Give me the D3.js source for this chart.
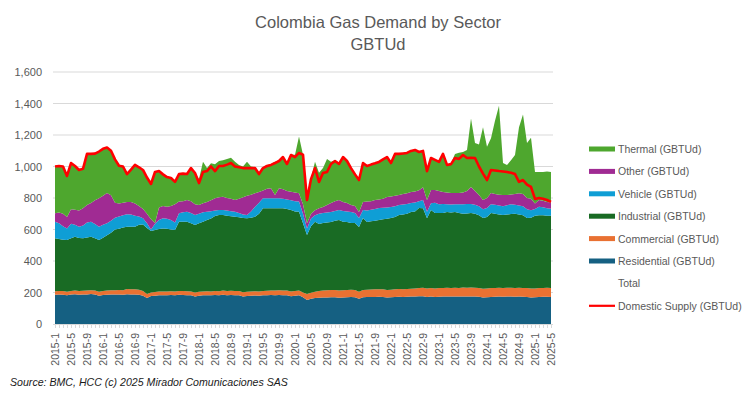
<!DOCTYPE html>
<html>
<head>
<meta charset="utf-8">
<title>Colombia Gas Demand by Sector</title>
<script src="https://cdn.jsdelivr.net/npm/d3@7"></script>
<style>
  body { margin: 0; background: #fff; }
  svg { display: block; font-family: "Liberation Sans", Arial, sans-serif; }
</style>
</head>
<body>
<div id="chart"></div>
<script>
// months 2015-1 .. 2025-5
const months = [];
for (let yr = 2015; yr <= 2025; yr++) {
  for (let m = 1; m <= 12; m++) {
    if (yr === 2025 && m > 5) break;
    months.push(yr + '-' + m);
  }
}

const yTicks = [0, 200, 400, 600, 800, 1000, 1200, 1400, 1600];

// GBTUd, one row per year
const residential = [
  185,188,186,183,187,189,186,188,187,190,188,180,
  184,186,188,187,188,186,189,188,188,186,180,165,
  178,180,182,183,182,184,182,185,184,183,182,175,
  180,182,183,182,184,183,185,183,184,183,182,175,
  178,180,181,180,182,183,184,183,184,183,182,176,
  180,182,170,152,160,165,167,168,169,170,170,166,
  168,170,171,170,160,170,171,172,172,173,172,168,
  170,172,173,172,173,174,175,176,176,172,175,172,
  173,174,175,174,175,174,175,174,175,174,173,168,
  170,172,173,174,173,174,174,173,174,173,172,168,
  170,172,173,173,172
];
const commercial = [
  23,22,23,22,23,23,23,23,25,24,24,25,
  26,27,26,28,28,28,33,32,32,32,30,25,
  22,23,24,24,24,24,24,25,25,25,25,25,
  25,25,25,25,25,25,27,27,27,27,27,27,
  27,27,27,27,28,28,29,29,30,30,30,30,
  30,30,30,38,38,40,43,44,45,46,46,46,
  46,46,46,46,45,46,47,47,48,48,48,48,
  48,49,49,49,50,50,51,52,54,54,54,54,
  55,55,55,55,55,55,56,56,56,56,56,56,
  56,56,56,56,56,56,56,56,56,56,56,57,
  56,56,56,57,57
];
const industrial = [
  336,330,326,328,335,342,337,333,338,340,333,328,
  338,350,366,385,389,398,396,398,398,412,422,420,
  390,394,397,400,399,392,391,440,441,442,433,429,
  435,443,452,463,476,484,480,478,473,471,468,471,
  466,468,473,493,525,524,522,523,521,522,518,518,
  505,501,440,375,422,445,425,429,431,432,439,448,
  436,432,424,425,411,457,430,433,436,439,445,452,
  455,459,470,474,477,487,489,509,505,445,495,479,
  477,476,481,479,481,476,469,472,474,470,461,449,
  454,477,471,465,463,465,468,471,465,461,445,450,
  461,462,461,458,458
];
const vehicle = [
  106,100,85,74,91,76,72,81,95,96,90,85,
  82,76,75,75,77,78,79,77,70,52,40,30,
  10,40,57,64,63,60,48,53,60,63,65,63,
  60,60,53,46,35,32,32,32,32,32,28,22,
  21,40,64,70,63,63,63,63,63,60,60,61,
  65,64,60,42,50,40,65,64,63,63,63,64,
  68,67,70,64,57,51,72,73,74,77,73,72,
  70,68,63,63,62,57,57,43,52,42,42,65,
  55,57,50,50,50,55,60,60,57,57,58,56,
  57,55,57,57,56,59,62,57,57,58,56,48,
  43,55,52,47,45
];
const other = [
  53,68,80,73,92,95,102,110,110,118,150,180,
  185,193,163,95,83,80,78,80,77,68,58,60,
  65,4,80,79,77,90,115,74,70,74,75,68,
  56,56,62,69,78,81,84,80,79,74,90,110,
  123,105,85,68,50,60,64,21,64,60,55,55,
  55,53,60,32,30,32,35,38,47,57,62,63,
  57,53,45,45,38,51,58,55,57,53,57,66,
  67,67,64,67,68,70,70,70,81,74,85,81,
  85,76,74,74,71,72,75,83,108,88,71,58,
  63,72,68,68,71,65,62,68,78,77,71,73,
  35,42,40,40,40
];
const thermal = [
  292,290,295,255,290,275,255,245,320,310,295,294,
  295,286,282,272,243,228,177,205,243,245,246,230,
  223,322,230,200,187,176,140,173,175,163,208,198,
  164,264,215,235,217,230,232,248,260,243,215,195,
  215,180,165,122,147,152,153,211,178,210,175,235,
  240,360,315,151,225,308,225,247,293,262,260,238,
  287,272,239,210,204,250,227,235,235,240,250,256,
  215,267,263,260,258,262,264,245,232,188,204,194,
  187,244,177,188,248,256,257,260,435,305,321,463,
  325,348,465,565,203,191,218,248,420,505,350,386,
  200,178,183,193,193
];
const domesticSupply = [
  1000,1003,1000,940,1022,1003,978,985,1080,1080,1082,1095,
  1112,1120,1100,1045,1005,1000,952,980,1010,995,978,930,
  889,965,971,950,933,927,902,952,955,952,990,959,
  895,965,971,1000,971,1003,1003,1012,1022,1000,995,990,
  990,990,990,952,990,1003,1010,1022,1035,1060,1016,1073,
  1060,1086,1075,787,920,990,902,959,965,1016,1035,1016,
  1060,1035,990,950,914,1022,1003,1012,1020,1029,1045,1060,
  1022,1080,1080,1083,1086,1099,1105,1092,1099,970,1054,1042,
  1029,1080,1010,1015,1054,1048,1073,1054,1055,1054,1000,955,
  914,978,975,971,968,965,960,952,902,914,885,870,
  794,800,795,787,775
];

const keys = ['residential', 'commercial', 'industrial', 'vehicle', 'other', 'thermal'];
const colors = {
  residential: '#156082',
  commercial: '#e97132',
  industrial: '#196b24',
  vehicle: '#0f9ed5',
  other: '#a02b93',
  thermal: '#4ea72e'
};

const table = months.map((m, i) => ({
  month: m,
  residential: residential[i],
  commercial: commercial[i],
  industrial: industrial[i],
  vehicle: vehicle[i],
  other: other[i],
  thermal: thermal[i],
  supply: domesticSupply[i]
}));

const width = 755, height = 397;
const textColor = '#595959';

const svg = d3.select('#chart')
  .append('svg')
  .attr('width', width)
  .attr('height', height);

const x = d3.scalePoint()
  .domain(months)
  .range([55, 551]);

const y = d3.scaleLinear()
  .domain([0, 1600])
  .range([324, 72]);

// title
svg.append('text')
  .attr('x', 378).attr('y', 28)
  .attr('text-anchor', 'middle')
  .attr('fill', textColor)
  .style('font-size', '16.5px')
  .text('Colombia Gas Demand by Sector');
svg.append('text')
  .attr('x', 378).attr('y', 50)
  .attr('text-anchor', 'middle')
  .attr('fill', textColor)
  .style('font-size', '16.5px')
  .text('GBTUd');

// gridlines
svg.append('g')
  .selectAll('line')
  .data(yTicks.filter(d => d > 0))
  .enter()
  .append('line')
  .attr('x1', 53).attr('x2', 553)
  .attr('y1', d => y(d)).attr('y2', d => y(d))
  .attr('stroke', '#d9d9d9')
  .attr('stroke-width', 1);

// y axis labels
const yAxis = svg.append('g')
  .attr('transform', 'translate(42,0)')
  .call(d3.axisLeft(y).tickValues(yTicks).tickFormat(d3.format(',')).tickSize(0).tickPadding(0));
yAxis.select('.domain').remove();
yAxis.selectAll('text')
  .attr('fill', textColor)
  .style('font-size', '11px')
  .style('font-family', '"Liberation Sans", Arial, sans-serif');

// stacked areas
const series = d3.stack().keys(keys)(table);
const area = d3.area()
  .x(d => x(d.data.month))
  .y0(d => y(d[0]))
  .y1(d => y(d[1]));

svg.append('g')
  .selectAll('path')
  .data(series)
  .enter()
  .append('path')
  .attr('d', area)
  .attr('fill', d => colors[d.key]);

// domestic supply line
const line = d3.line()
  .x(d => x(d.month))
  .y(d => y(d.supply));

svg.append('path')
  .datum(table)
  .attr('d', line)
  .attr('fill', 'none')
  .attr('stroke', '#ff0000')
  .attr('stroke-width', 2.6)
  .attr('stroke-linejoin', 'round');

// x axis
const xAxis = svg.append('g')
  .attr('transform', 'translate(0,324)')
  .call(d3.axisBottom(x).tickSize(4).tickFormat((d, i) => i % 4 === 0 ? d : ''));
xAxis.select('.domain').attr('stroke', '#d9d9d9').attr('d', 'M53,0.5H553');
xAxis.selectAll('.tick line').attr('stroke', '#d9d9d9');
xAxis.selectAll('text')
  .attr('transform', 'rotate(-90)')
  .attr('text-anchor', 'end')
  .attr('x', -9)
  .attr('y', 0)
  .attr('dy', '0.35em')
  .attr('fill', textColor)
  .style('font-size', '10.5px')
  .style('font-family', '"Liberation Sans", Arial, sans-serif');

// legend
const legendItems = [
  { label: 'Thermal (GBTUd)', color: colors.thermal, type: 'rect' },
  { label: 'Other (GBTUd)', color: colors.other, type: 'rect' },
  { label: 'Vehicle (GBTUd)', color: colors.vehicle, type: 'rect' },
  { label: 'Industrial (GBTUd)', color: colors.industrial, type: 'rect' },
  { label: 'Commercial (GBTUd)', color: colors.commercial, type: 'rect' },
  { label: 'Residential (GBTUd)', color: colors.residential, type: 'rect' },
  { label: 'Total', color: null, type: 'none' },
  { label: 'Domestic Supply (GBTUd)', color: '#ff0000', type: 'line' }
];

const legend = svg.append('g')
  .selectAll('g')
  .data(legendItems)
  .enter()
  .append('g')
  .attr('transform', (d, i) => 'translate(589,' + (149 + i * 22.4) + ')');

legend.filter(d => d.type === 'rect')
  .append('rect')
  .attr('x', 0).attr('y', -2.5)
  .attr('width', 26).attr('height', 5)
  .attr('fill', d => d.color);

legend.filter(d => d.type === 'line')
  .append('line')
  .attr('x1', 0).attr('x2', 26)
  .attr('stroke', d => d.color)
  .attr('stroke-width', 2.2);

legend.append('text')
  .attr('x', 29)
  .attr('y', 4)
  .attr('fill', textColor)
  .style('font-size', '10.5px')
  .text(d => d.label);

// source note
svg.append('text')
  .attr('x', 10).attr('y', 386)
  .attr('fill', '#1a1a1a')
  .style('font-size', '10.6px')
  .style('font-style', 'italic')
  .text('Source: BMC, HCC (c) 2025 Mirador Comunicaciones SAS');
</script>
</body>
</html>
